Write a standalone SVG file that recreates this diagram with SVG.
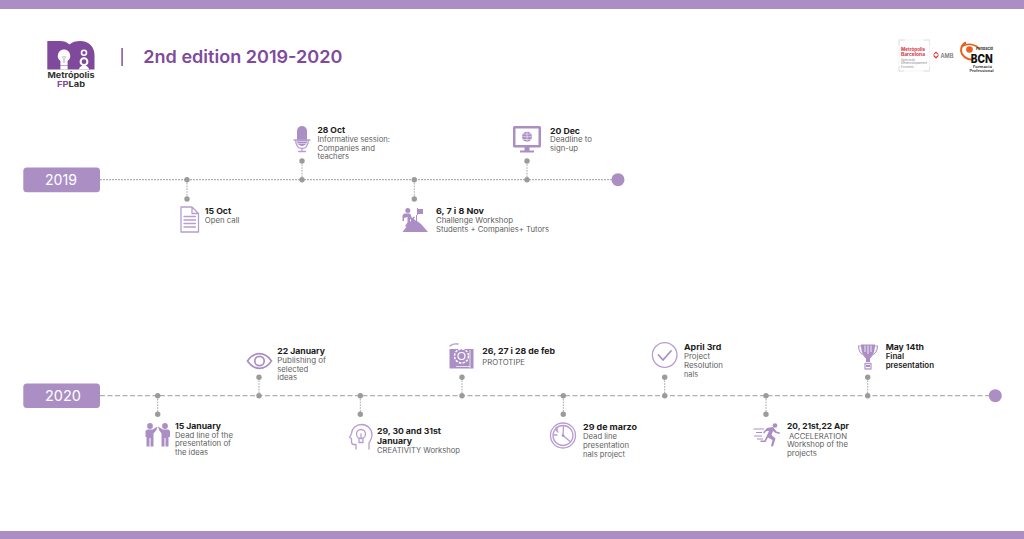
<svg xmlns="http://www.w3.org/2000/svg" width="1024" height="539" viewBox="0 0 1024 539">
<style>
text{font-family:"Inter","Open Sans","Liberation Sans",sans-serif}
.h{font-size:7.8px;font-weight:700;fill:#1c1c1c}
.h2{font-size:7.4px;font-weight:600;fill:#1c1c1c}
.b{font-size:7.4px;font-weight:400;fill:#606060}
.year{font-size:14.500px;fill:#fff;text-anchor:middle;font-weight:400}
.bar,.pill,.end,.fi{fill:#ab8fc4}
.dot{fill:#9b9b9b}
.s{stroke:#b0b0b0;stroke-width:1.200;fill:none}
.st{stroke:#a5a5a5;stroke-width:1;stroke-dasharray:1.600 1.200;fill:none}
.ol{fill:none;stroke:#b79dd0;stroke-width:1.300;stroke-linejoin:round;stroke-linecap:round}
.wh{fill:#fff}
</style>
<rect fill="#fff" width="1024" height="539"/>
<rect class="bar" x="0" y="0" width="1024" height="9"/>
<rect class="bar" x="0" y="531" width="1024" height="8"/>

<g id="logo">
<path fill="#7f4a9c" d="M47.300 69.500V41H60C64 41 67 42 69.500 44.500C72 42 76 41 80 41C89 41 94.500 47 94.500 55V69.500Z"/>
<path class="wh" d="M64 49.500a6.300 6.300 0 0 1 3.600 11.400V65.500h-7.200V60.900A6.300 6.300 0 0 1 64 49.500Z"/>
<rect x="60.400" y="66" width="7.200" height="3.500" fill="#fff"/>
<path d="M62 56l1 2 1-2 1 2 1-2M63.500 58v5M64.500 58v5" fill="none" stroke="#b79dd0" stroke-width=".5"/>
<circle cx="84" cy="52.700" r="2.500" fill="none" stroke="#fff" stroke-width="1.600"/>
<circle cx="84" cy="61.700" r="3.400" fill="none" stroke="#fff" stroke-width="2"/>
<path class="wh" d="M79 69.500a5 4 0 0 1 10 0Z"/>
<text x="47.500" y="78.300" font-size="8" font-weight="700" fill="#333" textLength="47" lengthAdjust="spacingAndGlyphs">Metrópolis</text>
<text x="57" y="86.800" font-size="8" font-weight="700" textLength="28" lengthAdjust="spacingAndGlyphs"><tspan fill="#7f4a9c">FP</tspan><tspan fill="#333">Lab</tspan></text>
</g>

<g id="title">
<rect x="121.300" y="48" width="1.600" height="18" fill="#8a59a6"/>
<text x="143.300" y="63.300" font-size="17.500" font-weight="600" fill="#7f4a9c" textLength="199" lengthAdjust="spacingAndGlyphs">2nd edition 2019-2020</text>
</g>

<g id="partner-logos">
<path d="M899 45v-5h6M924 40h5.500v5M929.500 66v5h-6M904 71h-5v-5" fill="none" stroke="#cfcfcf" stroke-width=".8"/>
<rect x="899" y="40" width="30.500" height="31" fill="none" stroke="#eee" stroke-width=".6"/>
<text x="901" y="51" font-size="4.500" font-weight="700" fill="#d8343c" textLength="24" lengthAdjust="spacingAndGlyphs">Metròpolis</text>
<text x="901" y="56" font-size="4.500" font-weight="700" fill="#d8343c" textLength="24" lengthAdjust="spacingAndGlyphs">Barcelona</text>
<text x="901" y="60.500" font-size="3.200" fill="#888" textLength="14" lengthAdjust="spacingAndGlyphs">Agència de</text>
<text x="901" y="64" font-size="3.200" fill="#888" textLength="26" lengthAdjust="spacingAndGlyphs">Desenvolupament</text>
<text x="901" y="67.500" font-size="3.200" fill="#888" textLength="13" lengthAdjust="spacingAndGlyphs">Econòmic</text>
<path d="M936 51.500l3 3-1.400 0-1.600-1.600-1.600 1.600-1.400 0ZM932.800 55.500h1.800l1.400 1.400 1.400-1.400h1.800l-3.200 3.200Z" fill="#d8343c"/>
<text x="940.500" y="58" font-size="5.500" font-weight="600" fill="#777" textLength="13" lengthAdjust="spacingAndGlyphs">AMB</text>
<path d="M966 42.500C961 45 960 50 962 54C965 59 971 61 975 58" fill="none" stroke="#e8611c" stroke-width="2"/>
<path d="M963 46C968 43 975 44 980 49" fill="none" stroke="#e8611c" stroke-width="1.500"/>
<circle cx="969.500" cy="49.500" r="3.300" fill="#e8611c"/>
<text x="976" y="49.800" font-size="3.800" font-weight="700" fill="#333" textLength="17" lengthAdjust="spacingAndGlyphs">Fundació</text>
<text x="970.700" y="62.800" font-size="11.500" font-weight="800" fill="#111" textLength="22" lengthAdjust="spacingAndGlyphs">BCN</text>
<text x="973" y="68" font-size="3.100" font-weight="700" fill="#444" textLength="19" lengthAdjust="spacingAndGlyphs">Formació</text>
<text x="969.500" y="72" font-size="3.100" font-weight="700" fill="#444" textLength="24" lengthAdjust="spacingAndGlyphs">Professional</text>
</g>

<g id="connectors">
<path class="s" stroke-dasharray="2 1" d="M100 179.700H618"/>
<path class="s" stroke-dasharray="5 2.500" d="M100 395.700H995"/>
<path class="st" d="M187 180V199M302 180V161M414.300 180V199M527 180V161M157.700 396V414.300M259 396V377.300M360.300 396V414.300M462 396V377.300M563.300 396V414.300M664.700 396V377.300M766 396V414.300M867.700 396V377.300"/>
<g class="dot">
<circle cx="187" cy="179.700" r="2.700"/><circle cx="187" cy="199" r="2.700"/>
<circle cx="302" cy="179.700" r="2.700"/><circle cx="302" cy="161" r="2.700"/>
<circle cx="414.300" cy="179.700" r="2.700"/><circle cx="414.300" cy="199" r="2.700"/>
<circle cx="527" cy="179.700" r="2.700"/><circle cx="527" cy="161" r="2.700"/>
<circle cx="157.700" cy="395.700" r="2.700"/><circle cx="157.700" cy="414.300" r="2.700"/>
<circle cx="259" cy="395.700" r="2.700"/><circle cx="259" cy="377.300" r="2.700"/>
<circle cx="360.300" cy="395.700" r="2.700"/><circle cx="360.300" cy="414.300" r="2.700"/>
<circle cx="462" cy="395.700" r="2.700"/><circle cx="462" cy="377.300" r="2.700"/>
<circle cx="563.300" cy="395.700" r="2.700"/><circle cx="563.300" cy="414.300" r="2.700"/>
<circle cx="664.700" cy="395.700" r="2.700"/><circle cx="664.700" cy="377.300" r="2.700"/>
<circle cx="766" cy="395.700" r="2.700"/><circle cx="766" cy="414.300" r="2.700"/>
<circle cx="867.700" cy="395.700" r="2.700"/><circle cx="867.700" cy="377.300" r="2.700"/>
</g>
<circle class="end" cx="618" cy="179.700" r="6.500"/>
<circle class="end" cx="995.300" cy="395.700" r="6.500"/>
</g>

<g id="year-2019"><rect class="pill" x="23.300" y="167.500" width="76.700" height="24.800" rx="3.500"/><text class="year" x="61" y="185" textLength="32" lengthAdjust="spacingAndGlyphs">2019</text></g>
<g id="year-2020"><rect class="pill" x="23.300" y="383.500" width="76.700" height="24.500" rx="3.500"/><text class="year" x="63" y="400.800" textLength="36" lengthAdjust="spacingAndGlyphs">2020</text></g>

<g id="node-15-oct">
<path class="ol" d="M181 207H192L198.500 213.500V232H181ZM192 207V213.500H198.500M184 216.500H195.500M184 220H195.500M184 223.500H195.500M184 227H195.500"/>
<text class="h" x="204.800" y="214" textLength="26.300" lengthAdjust="spacingAndGlyphs">15 Oct</text>
<text class="b" x="204.800" y="223" textLength="34.700" lengthAdjust="spacingAndGlyphs">Open call</text>
</g>
<g id="node-28-oct">
<rect class="fi" x="297" y="126" width="10" height="20" rx="5"/>
<path class="ol" d="M294 140H310M295.500 140C296 146 299 148.500 302 148.500S308 146 308.500 140M302 148.500V151M298.500 151.500H305.500"/>
<path d="M297.500 141.500H306.500M298 143.500H306" stroke="#fff" stroke-width=".5" fill="none"/>
<text class="h" x="317.500" y="133" textLength="27.500" lengthAdjust="spacingAndGlyphs">28 Oct</text>
<text class="b" x="317.500" y="142" textLength="72.500" lengthAdjust="spacingAndGlyphs">Informative session:</text>
<text class="b" x="317.500" y="150.700" textLength="57.500" lengthAdjust="spacingAndGlyphs">Companies and</text>
<text class="b" x="317.500" y="159.300" textLength="31.500" lengthAdjust="spacingAndGlyphs">teachers</text>
</g>
<g id="node-6-nov">
<path class="fi" d="M402.500 232L413 218L416 221V215H417V221L421 224L428 232Z"/>
<path class="fi" d="M417 208h1v1h5v5h-5v1h-1Z"/>
<circle class="fi" cx="407.800" cy="210.500" r="2.500"/>
<path class="fi" d="M404 213.500H410L412 218L414 216.500L415 217.500L411.500 221L410 218.500V223L406.500 227L405 226L407.500 222.500V217L404 218V221H402.500V215.500Z"/>
<text class="h" x="436" y="214" textLength="48" lengthAdjust="spacingAndGlyphs">6, 7 i 8 Nov</text>
<text class="b" x="436" y="223" textLength="77" lengthAdjust="spacingAndGlyphs">Challenge Workshop</text>
<text class="b" x="436" y="231.700" textLength="113" lengthAdjust="spacingAndGlyphs">Students + Companies+ Tutors</text>
</g>
<g id="node-20-dec">
<path class="fi" fill-rule="evenodd" d="M514.500 126H539.500A1.500 1.500 0 0 1 541 127.500V146A1.500 1.500 0 0 1 539.500 147.500H529.500V150.500H534V152.500H520V150.500H524.500V147.500H514.500A1.500 1.500 0 0 1 513 146V127.500A1.500 1.500 0 0 1 514.500 126ZM515.500 128.500V145H538.500V128.500Z"/>
<circle class="fi" cx="527" cy="136.700" r="5"/>
<path d="M522 136.700H532M527 131.700V141.700M523 134H531M523 139.500H531" stroke="#fff" stroke-width=".5" fill="none"/>
<text class="h" x="550" y="133.500" textLength="30" lengthAdjust="spacingAndGlyphs">20 Dec</text>
<text class="b" x="550" y="142.200" textLength="42" lengthAdjust="spacingAndGlyphs">Deadline to</text>
<text class="b" x="550" y="151" textLength="28" lengthAdjust="spacingAndGlyphs">sign-up</text>
</g>
<g id="node-15-january">
<circle class="fi" cx="150" cy="426" r="2.900"/><circle class="fi" cx="165" cy="426" r="2.900"/>
<path class="fi" d="M145.500 431L147 429.500H152.500L157.500 426.500L156.500 430L153.500 433.500V446.500H150.500V438H149.500V446.500H146.500V437H145.500Z"/>
<path class="fi" d="M170 431L168.500 429.500H163L158 426.500L159 430L161.500 433.500V446.500H164.500V438H165.500V446.500H168.500V437H170Z"/>
<text class="h" x="175" y="429" textLength="46" lengthAdjust="spacingAndGlyphs">15 January</text>
<text class="b" x="175" y="438" textLength="58" lengthAdjust="spacingAndGlyphs">Dead line of the</text>
<text class="b" x="175" y="446.300" textLength="56" lengthAdjust="spacingAndGlyphs">presentation of</text>
<text class="b" x="175" y="454.500" textLength="33" lengthAdjust="spacingAndGlyphs">the ideas</text>
</g>
<g id="node-22-january">
<path d="M247.500 361C251 356 255 353.700 259.500 353.700S268 356 271.500 361C268 366 264 368.300 259.500 368.300S251 366 247.500 361Z" fill="none" stroke="#ab8fc4" stroke-width="1.700"/>
<circle cx="259.500" cy="361" r="4.700" fill="none" stroke="#ab8fc4" stroke-width="1.700"/>
<text class="h" x="277.300" y="354" textLength="47.700" lengthAdjust="spacingAndGlyphs">22 January</text>
<text class="b" x="277.300" y="362.800" textLength="48.700" lengthAdjust="spacingAndGlyphs">Publishing of</text>
<text class="b" x="277.300" y="371.500" textLength="31" lengthAdjust="spacingAndGlyphs">selected</text>
<text class="b" x="277.300" y="380.300" textLength="19.700" lengthAdjust="spacingAndGlyphs">ideas</text>
</g>
<g id="node-29-january">
<path class="ol" d="M356 449V444.500H353.500C352 444.500 351.500 443 351.500 441.500V438.500L349.500 437.500L351.500 433.500C352 428 356 424.500 361.500 424.500C367.500 424.500 372 429 372 435C372 439 370 441 369 443V449"/>
<circle class="ol" cx="361" cy="434" r="4.500"/>
<path class="ol" d="M359 439V442.500H363V439M361 434V438"/>
<text class="h" x="377" y="434.300" textLength="64" lengthAdjust="spacingAndGlyphs">29, 30 and 31st</text>
<text class="h" x="377" y="444" textLength="35" lengthAdjust="spacingAndGlyphs">January</text>
<text class="b" x="377" y="453" textLength="83" lengthAdjust="spacingAndGlyphs">CREATIVITY Workshop</text>
</g>
<g id="node-26-feb">
<rect class="fi" x="449.500" y="349" width="24" height="19.500"/>
<circle cx="461.500" cy="356" r="7" fill="none" stroke="#fff" stroke-width="1.500" stroke-dasharray="2.500 1.200"/>
<circle cx="461.500" cy="356" r="3.500" fill="none" stroke="#fff" stroke-width="1.200"/>
<path d="M470 350V368M456 366.500H470" stroke="#fff" stroke-width=".7" fill="none"/>
<path class="ol" d="M450 346C452 344 455 343.500 458 344"/>
<text class="h" x="482.300" y="354" textLength="72.700" lengthAdjust="spacingAndGlyphs">26, 27 i 28 de feb</text>
<text class="b" x="482.300" y="365" textLength="42.700" lengthAdjust="spacingAndGlyphs">PROTOTIPE</text>
</g>
<g id="node-29-marzo">
<circle class="ol" cx="563" cy="435.500" r="12.500"/>
<circle class="ol" cx="563" cy="435.500" r="10" stroke-width=".8"/>
<path class="ol" d="M563.500 425.500L563 435.500L569.500 441M556 430L558 432M554 435H557M556 427.500L557.500 429.500" stroke-width="1"/>
<circle class="fi" cx="563" cy="435.500" r="1.300"/>
<text class="h" x="583" y="430" textLength="54" lengthAdjust="spacingAndGlyphs">29 de marzo</text>
<text class="b" x="583" y="439" textLength="34" lengthAdjust="spacingAndGlyphs">Dead line</text>
<text class="b" x="583" y="447.800" textLength="46" lengthAdjust="spacingAndGlyphs">presentation</text>
<text class="b" x="583" y="456.800" textLength="42" lengthAdjust="spacingAndGlyphs">nals project</text>
</g>
<g id="node-april-3">
<circle cx="664.700" cy="355" r="12.300" fill="none" stroke="#b79dd0" stroke-width="1.300"/>
<path d="M658.500 355L663 360L671 351" fill="none" stroke="#ab8fc4" stroke-width="1.800" stroke-linecap="round" stroke-linejoin="round"/>
<text class="h" x="684" y="350" textLength="37.300" lengthAdjust="spacingAndGlyphs">April 3rd</text>
<text class="b" x="684" y="359" textLength="26" lengthAdjust="spacingAndGlyphs">Project</text>
<text class="b" x="684" y="367.700" textLength="39" lengthAdjust="spacingAndGlyphs">Resolution</text>
<text class="b" x="684" y="376.500" textLength="14" lengthAdjust="spacingAndGlyphs">nals</text>
</g>
<g id="node-20-apr">
<circle class="fi" cx="775" cy="425.500" r="2.300"/>
<path class="fi" d="M767 428L773 427L776.500 431.500L780 432.500L779.500 434L775.500 433L773 431L771.500 435L775.500 438.500L773 446.500L771 446L772.500 440L768 437.500L765.500 442H760.500V440.500H764.500L769 431L766.500 431L764 433.500L763 432.500Z"/>
<path d="M753.500 429H764M756 432.500H762M754 436H762M757 439H763" stroke="#ab8fc4" stroke-width="1" fill="none"/>
<text class="h" x="787" y="429" textLength="62" lengthAdjust="spacingAndGlyphs">20, 21st,22 Apr</text>
<text class="b" x="789" y="438.500" textLength="58" lengthAdjust="spacingAndGlyphs">ACCELERATION</text>
<text class="b" x="787" y="447" textLength="61" lengthAdjust="spacingAndGlyphs">Workshop of the</text>
<text class="b" x="787" y="456" textLength="30" lengthAdjust="spacingAndGlyphs">projects</text>
</g>
<g id="node-may-14">
<path class="fi" d="M861 344.500H875C875 351 873 356 870 358.500V362H866V358.500C863 356 861 351 861 344.500Z"/>
<path d="M861 346H858.500C858.500 351 861 354 864.500 355.500M875 346H877.500C877.500 351 875 354 871.500 355.500" fill="none" stroke="#b79dd0" stroke-width="1.200"/>
<path d="M865 345.500V352M868 345.500V354M871 345.500V352" stroke="#fff" stroke-width=".8" fill="none"/>
<path class="ol" d="M865 369V363.500H871V369Z"/>
<rect class="fi" x="866" y="365" width="4" height="2"/>
<text class="h" x="885.700" y="350" textLength="38.300" lengthAdjust="spacingAndGlyphs">May 14th</text>
<text class="h2" x="885.700" y="359" textLength="18.300" lengthAdjust="spacingAndGlyphs">Final</text>
<text class="h2" x="885.700" y="367.500" textLength="48.300" lengthAdjust="spacingAndGlyphs">presentation</text>
</g>
</svg>
